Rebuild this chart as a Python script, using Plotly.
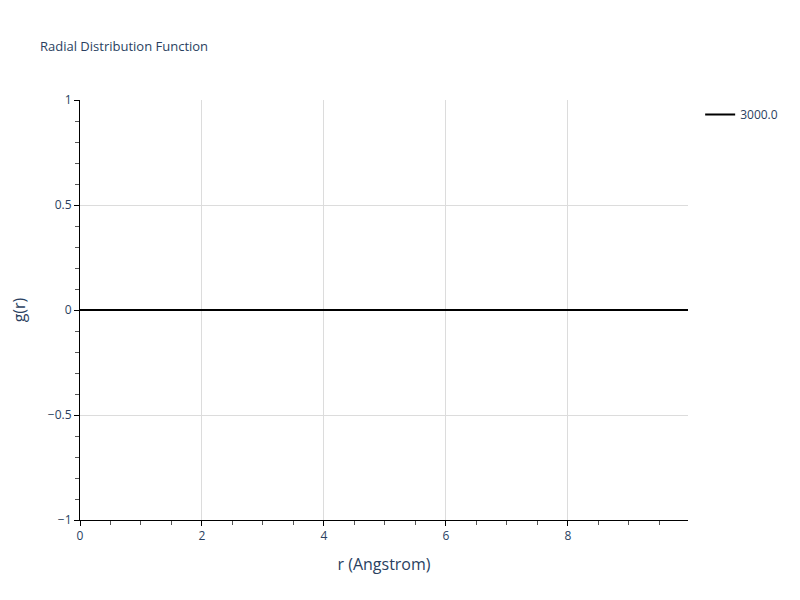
import plotly.graph_objects as go

# radial distribution function data (flat at zero)
r_values = [0.0, 2.0, 4.0, 6.0, 8.0, 9.97]
g_values = [0.0, 0.0, 0.0, 0.0, 0.0, 0.0]
series_name = "3000.0"

fig = go.Figure()
fig.add_trace(go.Scatter(x=r_values, y=g_values, mode="lines", name=series_name,
                         line=dict(color="black", width=2)))

fig.update_layout(
    template="plotly_white",
    width=792, height=592,
    title=dict(text="Radial Distribution Function", x=0.0404, y=0.9426,
               font=dict(size=13)),
    showlegend=True,
    margin=dict(l=72, r=112, t=92, b=80),
)

fig.update_xaxes(
    title_text="r (Angstrom)", title_font=dict(size=16), range=[0, 9.97],
    showline=True, linecolor="black", linewidth=1,
    ticks="outside", ticklen=5, tickcolor="black", dtick=2,
    showgrid=True, gridcolor="#dcdcdc", zeroline=False,
    minor=dict(ticks="outside", ticklen=4, tickcolor="#555", dtick=0.5, showgrid=False),
)
fig.update_yaxes(
    title_text="g(r)", title_font=dict(size=16), title_standoff=22, automargin=False,
    range=[-1, 1],
    showline=True, linecolor="black", linewidth=1,
    ticks="outside", ticklen=5, tickcolor="black", dtick=0.5,
    showgrid=True, gridcolor="#dcdcdc", zeroline=False,
    minor=dict(ticks="outside", ticklen=4, tickcolor="#555", dtick=0.1, showgrid=False),
)

fig.write_html("out.html")
